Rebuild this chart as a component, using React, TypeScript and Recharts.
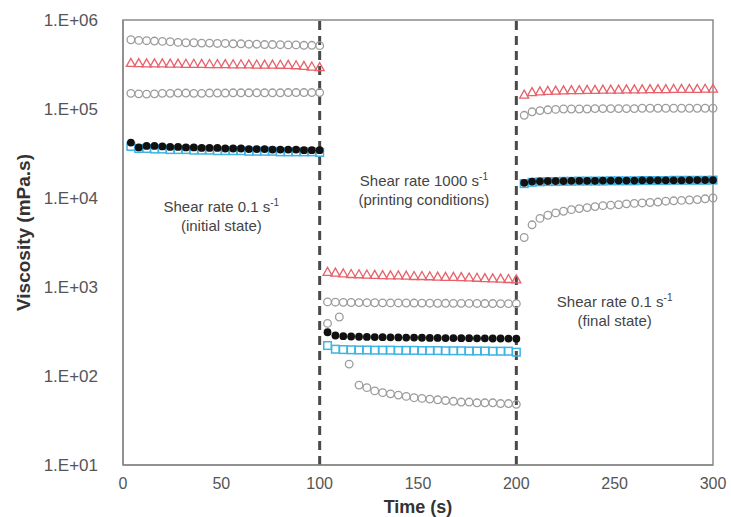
import React from "react";
import {
  ScatterChart, Scatter, XAxis, YAxis, ReferenceLine, ReferenceArea, ReferenceDot
} from "recharts";

// time stamps (s) shared by most series: 25 points per shear step
const TIME = [
  4, 8, 12, 16, 20, 24, 28, 32, 36, 40, 44, 48, 52, 56, 60, 64, 68, 72, 76, 80, 84, 88, 92, 96, 100,
  104, 108, 112, 116, 120, 124, 128, 132, 136, 140, 144, 148, 152, 156, 160, 164, 168, 172, 176, 180, 184, 188, 192, 196, 200,
  204, 208, 212, 216, 220, 224, 228, 232, 236, 240, 244, 248, 252, 256, 260, 264, 268, 272, 276, 280, 284, 288, 292, 296, 300,
];

// the strongly thixotropic sample has irregular early points in the high-shear step
const TIME_A = [
  4, 8, 12, 16, 20, 24, 28, 32, 36, 40, 44, 48, 52, 56, 60, 64, 68, 72, 76, 80, 84, 88, 92, 96, 100,
  104, 110, 115, 120, 124, 128, 132, 136, 140, 144, 148, 152, 156, 160, 164, 168, 172, 176, 180, 184, 188, 192, 196, 200,
  204, 208, 212, 216, 220, 224, 228, 232, 236, 240, 244, 248, 252, 256, 260, 264, 268, 272, 276, 280, 284, 288, 292, 296, 300,
];

// viscosity, mPa.s
const greyA = [
  600000, 590000, 585000, 580000, 575000, 570000, 560000, 555000, 555000, 550000, 550000, 545000, 545000,
  540000, 540000, 535000, 535000, 530000, 530000, 528000, 525000, 525000, 520000, 520000, 515000,
  390, 460, 136, 79, 74, 68, 65, 63, 61, 59, 57, 56, 55, 54, 53, 52, 51, 51, 50, 50, 50, 49, 49, 48,
  3600, 5000, 5900, 6400, 6800, 7100, 7400, 7600, 7800, 8000, 8200, 8300, 8400, 8600, 8700, 8800, 8900,
  9000, 9200, 9300, 9400, 9500, 9600, 9800, 10000,
];

const greyB = [
  150000, 148000, 147000, 148000, 150000, 150000, 151000, 151000, 150000, 150000, 151000, 151000, 151000,
  152000, 152000, 152000, 152000, 152000, 152000, 152000, 153000, 153000, 153000, 153000, 153000,
  680, 675, 672, 670, 668, 666, 665, 664, 663, 662, 661, 660, 659, 658, 657, 656, 655, 655, 654, 653, 652, 652, 651, 650, 650,
  85000, 93000, 96000, 98000, 99000, 100000, 100000, 100000, 100000, 101000, 101000, 101000, 101000,
  101000, 101000, 102000, 102000, 102000, 102000, 102000, 102000, 102000, 102000, 102000, 102000,
];

const red = [
  330000, 328000, 326000, 325000, 325000, 324000, 323000, 322000, 322000, 321000, 320000, 320000, 319000,
  318000, 318000, 317000, 316000, 315000, 315000, 314000, 313000, 310000, 305000, 300000, 295000,
  1480, 1450, 1420, 1400, 1390, 1380, 1370, 1360, 1350, 1350, 1340, 1330, 1330, 1320, 1310, 1300, 1300,
  1290, 1280, 1270, 1260, 1250, 1240, 1230, 1220,
  145000, 155000, 158000, 160000, 161000, 162000, 163000, 163000, 164000, 164000, 165000, 165000, 165000,
  166000, 166000, 166000, 167000, 167000, 167000, 168000, 168000, 168000, 168000, 169000, 169000,
];

const blue = [
  38000, 36000, 36000, 35500, 35500, 35000, 35000, 35000, 34500, 34500, 34500, 34000, 34000,
  34000, 34000, 33500, 33500, 33500, 33500, 33000, 33000, 33000, 33000, 33000, 32500,
  220, 200, 198, 197, 196, 196, 195, 195, 195, 194, 194, 194, 193, 193, 193, 192, 192, 192, 191, 191, 191, 190, 190, 190, 185,
  14500, 15000, 15200, 15300, 15300, 15400, 15400, 15500, 15500, 15500, 15500, 15600, 15600,
  15600, 15600, 15700, 15700, 15700, 15700, 15800, 15800, 15800, 15800, 15800, 15900,
];

const black = [
  42000, 37000, 38500, 38500, 38000, 37500, 37500, 37000, 37000, 36500, 36500, 36500, 36000,
  36000, 36000, 35500, 35500, 35500, 35000, 35000, 35000, 35000, 34500, 34500, 34500,
  310, 285, 280, 278, 276, 275, 274, 273, 272, 271, 270, 270, 269, 268, 268, 267, 267, 266, 266, 265, 265, 264, 264, 263, 262,
  14800, 15300, 15400, 15500, 15500, 15500, 15600, 15600, 15600, 15600, 15700, 15700, 15700,
  15700, 15700, 15800, 15800, 15800, 15800, 15800, 15800, 15900, 15900, 15900, 15900,
];

const X_TICKS = [0, 50, 100, 150, 200, 250, 300];
const Y_TICKS = [10, 100, 1000, 10000, 100000, 1000000];
const STEP_BOUNDS = [100, 200];

const FONT = "'Liberation Sans', Arial, sans-serif";

const toPoints = (ts: number[], vs: number[]) => ts.map((t, i) => ({ t, v: vs[i] }));

const fmtExp = (v: number) => "1.E+" + String(Math.round(Math.log10(v))).padStart(2, "0");

// marker shapes
const OpenCircle = (p: any) => (
  <circle cx={p.cx} cy={p.cy} r={3.8} fill="none" stroke="#9c9c9c" strokeWidth={1.3} />
);
const Triangle = (p: any) => (
  <path
    d={`M${p.cx},${p.cy - 4.5} L${p.cx + 4.5},${p.cy + 3.5} L${p.cx - 4.5},${p.cy + 3.5} Z`}
    fill="none" stroke="#e8606a" strokeWidth={1.3}
  />
);
const Square = (p: any) => (
  <rect x={p.cx - 3.8} y={p.cy - 3.8} width={7.6} height={7.6} fill="none" stroke="#3fb3e3" strokeWidth={1.5} />
);
const Dot = (p: any) => <circle cx={p.cx} cy={p.cy} r={3.9} fill="#111" />;

// two-line annotation centred on a ReferenceDot
function Note(props: any) {
  const { viewBox, line1, line2 } = props;
  const x = viewBox.x + viewBox.width / 2;
  const y = viewBox.y + viewBox.height / 2;
  return (
    <g fontFamily={FONT} fill="#444">
      <text x={x} y={y} textAnchor="middle" fontSize={15}>
        <tspan>{line1}</tspan>
        <tspan dy={-6} fontSize={10}>-1</tspan>
      </text>
      <text x={x} y={y + 19} textAnchor="middle" fontSize={15}>{line2}</text>
    </g>
  );
}

function YTitle(props: any) {
  const { viewBox } = props;
  const x = viewBox.x + 30;
  const y = viewBox.y + viewBox.height / 2 - 10;
  return (
    <text x={x} y={y} transform={`rotate(-90, ${x}, ${y})`} textAnchor="middle"
      fontFamily={FONT} fontWeight="bold" fontSize={19} fill="#333">
      Viscosity (mPa.s)
    </text>
  );
}

function XTitle(props: any) {
  const { viewBox } = props;
  const x = viewBox.x + viewBox.width / 2;
  return (
    <text x={x} y={viewBox.y + 48} textAnchor="middle"
      fontFamily={FONT} fontWeight="bold" fontSize={18} fill="#333">
      Time (s)
    </text>
  );
}

export default function App() {
  return (
    <div style={{ position: "absolute", left: 0, top: 0, width: 731, height: 517, background: "#fff" }}>
      <ScatterChart width={731} height={517} margin={{ top: 20, right: 18, bottom: 0, left: 0 }}>
        <XAxis
          dataKey="t" type="number" domain={[0, 300]} ticks={X_TICKS}
          height={52} tickLine={false} tickSize={0} tickMargin={13}
          axisLine={{ stroke: "#8a8a8a", strokeWidth: 1.5 }}
          tick={{ fontSize: 16, fill: "#555", fontFamily: FONT }}
          label={(p: any) => <XTitle {...p} />}
        />
        <YAxis
          dataKey="v" type="number" scale="log" domain={[10, 1000000]} ticks={Y_TICKS}
          allowDataOverflow width={123} tickLine={false} tickSize={0} tickMargin={25}
          tickFormatter={fmtExp}
          axisLine={{ stroke: "#8a8a8a", strokeWidth: 1.5 }}
          tick={{ fontSize: 17, fill: "#555", fontFamily: FONT }}
          label={(p: any) => <YTitle {...p} />}
        />
        <ReferenceArea x1={0} x2={300} y1={10} y2={1000000} fill="none" stroke="#8a8a8a" strokeWidth={1.5} />
        <Scatter data={toPoints(TIME_A, greyA)} shape={OpenCircle} isAnimationActive={false} />
        <Scatter data={toPoints(TIME, greyB)} shape={OpenCircle} isAnimationActive={false} />
        <Scatter data={toPoints(TIME, red)} shape={Triangle} isAnimationActive={false} />
        <Scatter data={toPoints(TIME, blue)} shape={Square} isAnimationActive={false} />
        <Scatter data={toPoints(TIME, black)} shape={Dot} isAnimationActive={false} />
        {STEP_BOUNDS.map((b) => (
          <ReferenceLine key={b} x={b} stroke="#4a4a4a" strokeWidth={3} strokeDasharray="9 6" />
        ))}
        <ReferenceDot x={50} y={7000} r={0} fill="none" stroke="none"
          label={(p: any) => <Note {...p} line1="Shear rate 0.1 s" line2="(initial state)" />} />
        <ReferenceDot x={153} y={13600} r={0} fill="none" stroke="none"
          label={(p: any) => <Note {...p} line1="Shear rate 1000 s" line2="(printing conditions)" />} />
        <ReferenceDot x={250} y={590} r={0} fill="none" stroke="none"
          label={(p: any) => <Note {...p} line1="Shear rate 0.1 s" line2="(final state)" />} />
      </ScatterChart>
    </div>
  );
}
